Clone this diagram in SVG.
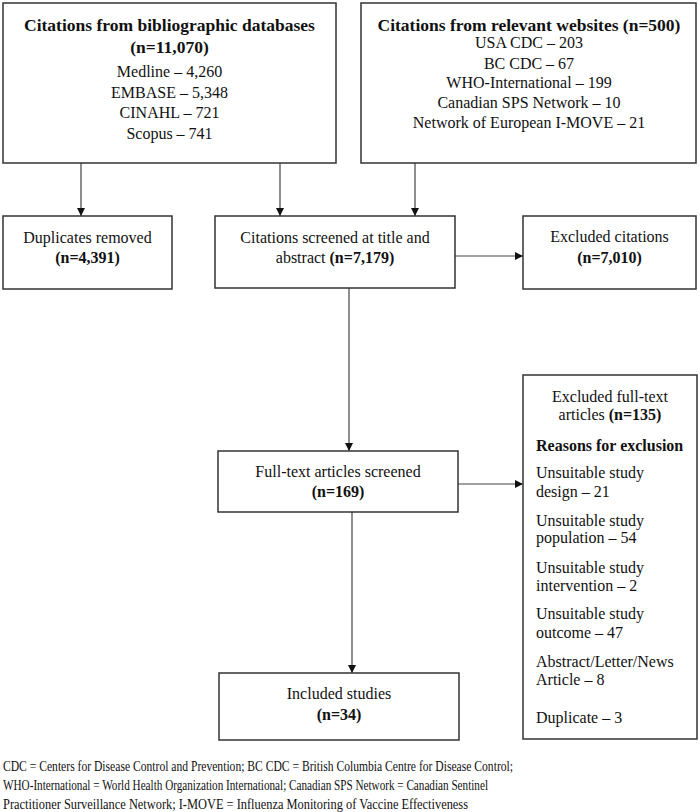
<svg xmlns="http://www.w3.org/2000/svg" width="700" height="812" viewBox="0 0 700 812">
<style>
  .box { fill: #ffffff; stroke: #333333; stroke-width: 1.5; }
  .t { font-family: "Liberation Serif", "Times New Roman", serif; font-size: 16px; fill: #111111; }
  .c { text-anchor: middle; }
  .h { font-size: 17.5px; font-weight: bold; }
  .b { font-weight: bold; }
  .fn { font-family: "Liberation Serif", "Times New Roman", serif; font-size: 15px; fill: #111111; }
  .conn { stroke: #444444; stroke-width: 1.2; fill: none; marker-end: url(#arrow); }
</style>
<defs>
  <marker id="arrow" markerUnits="userSpaceOnUse" markerWidth="9" markerHeight="9" refX="8" refY="4" orient="auto">
    <path d="M0,0 L8,4 L0,8 Z" fill="#111111"/>
  </marker>
</defs>
<rect width="700" height="812" fill="#ffffff"/>

<g id="connectors">
  <line class="conn" x1="81" y1="163" x2="81" y2="216"/>
  <line class="conn" x1="280" y1="163" x2="280" y2="216"/>
  <line class="conn" x1="415" y1="163" x2="415" y2="216"/>
  <line class="conn" x1="455" y1="256" x2="523" y2="256"/>
  <line class="conn" x1="349" y1="288" x2="349" y2="451"/>
  <line class="conn" x1="458" y1="484" x2="523" y2="484"/>
  <line class="conn" x1="352" y1="512" x2="352" y2="673"/>
</g>

<g id="databases">
  <rect class="box" x="3" y="3" width="333" height="160"/>
  <text class="t h c" x="169.5" y="31">Citations from bibliographic databases</text>
  <text class="t c" x="169.5" y="53"><tspan class="h">(n=11,070)</tspan></text>
  <text class="t c" x="169.5" y="77">Medline – 4,260</text>
  <text class="t c" x="169.5" y="98">EMBASE – 5,348</text>
  <text class="t c" x="169.5" y="118">CINAHL – 721</text>
  <text class="t c" x="169.5" y="139">Scopus – 741</text>
</g>

<g id="websites">
  <rect class="box" x="361" y="3" width="335" height="160"/>
  <text class="t h c" x="529" y="31">Citations from relevant websites (n=500)</text>
  <text class="t c" x="529" y="48">USA CDC – 203</text>
  <text class="t c" x="529" y="69">BC CDC – 67</text>
  <text class="t c" x="529" y="88">WHO-International – 199</text>
  <text class="t c" x="529" y="108">Canadian SPS Network – 10</text>
  <text class="t c" x="529" y="128">Network of European I-MOVE – 21</text>
</g>

<g id="duplicates">
  <rect class="box" x="3" y="216" width="169" height="73"/>
  <text class="t c" x="87.5" y="243">Duplicates removed</text>
  <text class="t c b" x="87.5" y="263">(n=4,391)</text>
</g>

<g id="screened">
  <rect class="box" x="215" y="216" width="240" height="72"/>
  <text class="t c" x="335" y="243">Citations screened at title and</text>
  <text class="t c" x="335" y="263">abstract <tspan class="b">(n=7,179)</tspan></text>
</g>

<g id="excluded-citations">
  <rect class="box" x="523" y="216" width="173" height="73"/>
  <text class="t c" x="609.5" y="242">Excluded citations</text>
  <text class="t c b" x="609.5" y="263">(n=7,010)</text>
</g>

<g id="fulltext">
  <rect class="box" x="218" y="451" width="240" height="61"/>
  <text class="t c" x="338" y="477">Full-text articles screened</text>
  <text class="t c b" x="338" y="497">(n=169)</text>
</g>

<g id="excluded-fulltext">
  <rect class="box" x="523" y="375" width="174" height="364"/>
  <text class="t c" x="610" y="402">Excluded full-text</text>
  <text class="t c" x="610" y="420">articles <tspan class="b">(n=135)</tspan></text>
  <text class="t b" x="536" y="451">Reasons for exclusion</text>
  <text class="t" x="536" y="478">Unsuitable study</text>
  <text class="t" x="536" y="497">design – 21</text>
  <text class="t" x="536" y="526">Unsuitable study</text>
  <text class="t" x="536" y="543">population – 54</text>
  <text class="t" x="536" y="573">Unsuitable study</text>
  <text class="t" x="536" y="591">intervention – 2</text>
  <text class="t" x="536" y="619">Unsuitable study</text>
  <text class="t" x="536" y="638">outcome – 47</text>
  <text class="t" x="536" y="667">Abstract/Letter/News</text>
  <text class="t" x="536" y="685">Article – 8</text>
  <text class="t" x="536" y="723">Duplicate – 3</text>
</g>

<g id="included">
  <rect class="box" x="219" y="673" width="240" height="67"/>
  <text class="t c" x="339" y="699">Included studies</text>
  <text class="t c b" x="339" y="720">(n=34)</text>
</g>

<g id="footnote">
  <text class="fn" x="3" y="771" textLength="510" lengthAdjust="spacingAndGlyphs">CDC = Centers for Disease Control and Prevention; BC CDC = British Columbia Centre for Disease Control;</text>
  <text class="fn" x="3" y="790" textLength="485" lengthAdjust="spacingAndGlyphs">WHO-International = World Health Organization International; Canadian SPS Network = Canadian Sentinel</text>
  <text class="fn" x="3" y="809" textLength="465" lengthAdjust="spacingAndGlyphs">Practitioner Surveillance Network; I-MOVE = Influenza Monitoring of Vaccine Effectiveness</text>
</g>
</svg>
